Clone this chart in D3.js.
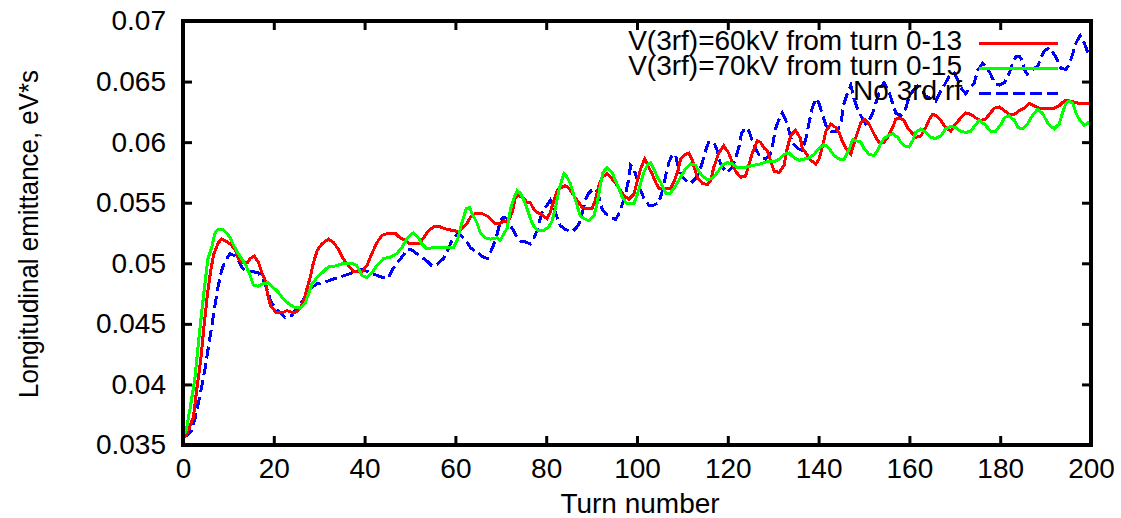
<!DOCTYPE html>
<html>
<head>
<meta charset="utf-8">
<script src="https://cdn.jsdelivr.net/npm/d3@7"></script>
<style>
  body { margin: 0; background: #fff; }
  svg { display: block; font-family: "Liberation Sans", Arial, sans-serif; }
  .tick line { stroke: #000; stroke-width: 3; }
  .tick text { fill: #000; font-size: 28px; }
</style>
</head>
<body>
<main></main>
<script>
// turn number -> longitudinal emittance (eV*s)
const redTurns = [0, 0.7, 2.3, 3, 3.9, 4.6, 5.4, 6.1, 6.8, 7.8, 8.5, 9.6, 10.7, 11.5, 12.2, 12.9, 14.3, 14.8, 15.7, 16.6, 17.4, 18.1, 18.6, 19.3, 20.6, 21.8, 22.9, 24.3, 25.4, 26.5, 27.3, 28, 28.7, 29.6, 30.6, 32, 33.2, 34.3, 35.2, 36.5, 37.6, 39.4, 40.5, 41.6, 42.7, 43.8, 45.3, 46.7, 47.8, 49, 50, 51.9, 53, 54.1, 55.2, 56.7, 58.1, 59.6, 60.8, 61.4, 62.6, 63.3, 64.4, 65.9, 67, 68.1, 68.8, 69.9, 70.8, 71.6, 72.5, 73.2, 73.9, 75, 75.8, 76.5, 77.2, 78, 78.7, 79.4, 80.2, 80.9, 81.7, 82.4, 83.1, 84.2, 85, 85.7, 86.4, 87.2, 87.9, 89, 90.1, 90.8, 91.6, 92.3, 93.4, 94.2, 95.3, 96.4, 97.1, 98.2, 99.3, 100, 100.8, 101.7, 102.6, 103.3, 104.1, 104.8, 105.9, 107.4, 108.1, 109, 109.6, 110.7, 111.4, 112.2, 112.7, 113.3, 114.4, 115.5, 116.2, 116.9, 118, 119.1, 120.2, 121, 121.7, 122.8, 123.9, 124.7, 125.4, 126.5, 127.2, 128, 128.7, 129.4, 130.2, 131.3, 132.4, 133.1, 133.8, 134.9, 136, 136.4, 137.2, 138.3, 139.4, 140.1, 140.9, 141.6, 142.7, 143.8, 144.6, 145.3, 146, 147.1, 147.8, 148.5, 149.3, 150, 151.1, 151.9, 152.6, 153.3, 154.4, 155.2, 156.3, 157, 157.7, 158.8, 159.6, 160.7, 161.4, 162.5, 163.6, 164.4, 165.1, 165.8, 166.9, 168, 169.1, 170.2, 171.3, 172.4, 173.5, 174.6, 175.7, 176.8, 177.6, 178.7, 179.8, 180.9, 182, 183.1, 184.2, 185.3, 186.4, 187.5, 188.6, 191.9, 193, 194.1, 195.2, 196.3, 197.4, 200];
const redValues = [0.0355, 0.0358, 0.0373, 0.0395, 0.0420, 0.0447, 0.0475, 0.0494, 0.0508, 0.0517, 0.0520, 0.0518, 0.0515, 0.0511, 0.0504, 0.0501, 0.0501, 0.0504, 0.0506, 0.0501, 0.0492, 0.0486, 0.0475, 0.0465, 0.0459, 0.0459, 0.0461, 0.0459, 0.0461, 0.0468, 0.0479, 0.0488, 0.0500, 0.0511, 0.0516, 0.0520, 0.0517, 0.0511, 0.0504, 0.0498, 0.0493, 0.0493, 0.0498, 0.0508, 0.0517, 0.0523, 0.0525, 0.0525, 0.0521, 0.0519, 0.0516, 0.0516, 0.0521, 0.0527, 0.0530, 0.0530, 0.0528, 0.0527, 0.0526, 0.0529, 0.0533, 0.0538, 0.0541, 0.0541, 0.0539, 0.0535, 0.0533, 0.0533, 0.0535, 0.0534, 0.0542, 0.0554, 0.0556, 0.0554, 0.0550, 0.0550, 0.0545, 0.0542, 0.0541, 0.0539, 0.0537, 0.0542, 0.0552, 0.0560, 0.0562, 0.0564, 0.0562, 0.0558, 0.0554, 0.0550, 0.0546, 0.0545, 0.0545, 0.0552, 0.0564, 0.0571, 0.0574, 0.0571, 0.0566, 0.0560, 0.0556, 0.0553, 0.0557, 0.0567, 0.0578, 0.0586, 0.0579, 0.0574, 0.0567, 0.0562, 0.0562, 0.0562, 0.0567, 0.0576, 0.0586, 0.0590, 0.0591, 0.0585, 0.0578, 0.0571, 0.0566, 0.0565, 0.0568, 0.0579, 0.0591, 0.0597, 0.0591, 0.0583, 0.0576, 0.0571, 0.0572, 0.0582, 0.0591, 0.0601, 0.0600, 0.0595, 0.0593, 0.0585, 0.0576, 0.0575, 0.0581, 0.0595, 0.0605, 0.0610, 0.0603, 0.0595, 0.0591, 0.0585, 0.0582, 0.0586, 0.0597, 0.0609, 0.0615, 0.0612, 0.0607, 0.0600, 0.0595, 0.0590, 0.0599, 0.0607, 0.0616, 0.0619, 0.0615, 0.0609, 0.0604, 0.0600, 0.0600, 0.0604, 0.0612, 0.0619, 0.0620, 0.0618, 0.0612, 0.0607, 0.0604, 0.0605, 0.0612, 0.0619, 0.0623, 0.0622, 0.0618, 0.0612, 0.0609, 0.0615, 0.0620, 0.0624, 0.0623, 0.0620, 0.0618, 0.0619, 0.0623, 0.0628, 0.0629, 0.0626, 0.0623, 0.0623, 0.0626, 0.0628, 0.0632, 0.0630, 0.0628, 0.0628, 0.0630, 0.0634, 0.0634, 0.0633, 0.0632, 0.0632];

const greenTurns = [0, 0.7, 1.5, 2.6, 3.3, 4.1, 4.85, 5.5, 6.3, 7.05, 7.7, 8.8, 9.6, 10.4, 11, 12, 12.9, 13.9, 14.8, 15.5, 16.5, 17.6, 18.7, 19.9, 21, 22, 23.2, 24.3, 25.8, 26.9, 27.6, 28.4, 29.5, 30.6, 32, 33.9, 35.3, 37.2, 38.3, 39.4, 40.5, 41.6, 42.7, 44.2, 45.6, 47.1, 48.2, 49.3, 50.3, 50.8, 51.9, 52.6, 53.7, 55.2, 56.7, 58.1, 59.6, 60.5, 61.1, 61.8, 62.4, 63.1, 63.7, 64.8, 65.5, 66.6, 67.7, 69.2, 69.9, 70.6, 71.4, 72.1, 72.8, 73.6, 74.3, 75, 75.8, 76.5, 77.2, 78.3, 79.4, 80.6, 81.3, 82, 82.8, 83.3, 83.9, 84.6, 85.3, 86.1, 86.8, 87.5, 88.3, 89.4, 90.5, 91.2, 92, 92.5, 93.4, 94.5, 95.3, 96, 96.7, 97.8, 99.3, 100, 100.8, 101.5, 102.3, 103, 103.7, 104.5, 105.2, 106.3, 107.4, 108.5, 109.6, 110.7, 111.8, 112.9, 113.6, 114.4, 115.5, 116.6, 117.7, 118.8, 119.9, 121, 122.1, 123.6, 124.7, 125.8, 127.2, 128.7, 130.2, 131.3, 132.4, 133.5, 134.6, 135.7, 136.8, 137.9, 139, 140.1, 141.2, 142.3, 143.4, 144.6, 145.6, 146.7, 147.5, 149.3, 150, 151.1, 152.2, 153, 153.7, 154.4, 155.2, 156.3, 157.4, 158.1, 158.8, 159.9, 160.7, 161.4, 162.5, 163.6, 164.7, 165.8, 166.9, 168, 169.1, 170.2, 171.3, 172.4, 173.5, 174.3, 175.4, 176.5, 177.2, 177.9, 179, 180.2, 180.9, 182, 183.1, 183.9, 184.9, 186, 187.1, 188.2, 189.3, 190, 190.8, 191.9, 193, 193.7, 194.5, 195.2, 196, 196.7, 197.4, 198.5, 199.4, 200];
const greenValues = [0.0358, 0.0362, 0.0379, 0.0404, 0.0431, 0.0459, 0.0484, 0.0504, 0.0513, 0.0525, 0.0528, 0.0528, 0.0525, 0.0521, 0.0516, 0.0509, 0.0504, 0.0498, 0.0490, 0.0482, 0.0481, 0.0483, 0.0484, 0.0480, 0.0476, 0.0471, 0.0467, 0.0464, 0.0463, 0.0467, 0.0474, 0.0483, 0.0488, 0.0492, 0.0497, 0.0498, 0.0500, 0.0500, 0.0498, 0.0490, 0.0488, 0.0492, 0.0498, 0.0504, 0.0505, 0.0508, 0.0513, 0.0520, 0.0524, 0.0525, 0.0521, 0.0516, 0.0512, 0.0513, 0.0513, 0.0513, 0.0513, 0.0520, 0.0529, 0.0538, 0.0545, 0.0546, 0.0541, 0.0533, 0.0525, 0.0521, 0.0520, 0.0521, 0.0519, 0.0524, 0.0529, 0.0544, 0.0553, 0.0560, 0.0558, 0.0553, 0.0545, 0.0537, 0.0531, 0.0527, 0.0527, 0.0530, 0.0535, 0.0545, 0.0560, 0.0567, 0.0574, 0.0571, 0.0566, 0.0556, 0.0548, 0.0539, 0.0537, 0.0535, 0.0539, 0.0549, 0.0566, 0.0575, 0.0579, 0.0575, 0.0568, 0.0562, 0.0555, 0.0549, 0.0549, 0.0556, 0.0566, 0.0575, 0.0581, 0.0583, 0.0578, 0.0571, 0.0567, 0.0558, 0.0558, 0.0564, 0.0571, 0.0578, 0.0582, 0.0581, 0.0576, 0.0572, 0.0569, 0.0570, 0.0575, 0.0581, 0.0583, 0.0582, 0.0579, 0.0579, 0.0580, 0.0581, 0.0582, 0.0584, 0.0584, 0.0586, 0.0590, 0.0591, 0.0587, 0.0585, 0.0586, 0.0587, 0.0590, 0.0595, 0.0598, 0.0595, 0.0589, 0.0586, 0.0586, 0.0594, 0.0602, 0.0600, 0.0595, 0.0590, 0.0589, 0.0593, 0.0599, 0.0603, 0.0605, 0.0607, 0.0604, 0.0600, 0.0597, 0.0596, 0.0601, 0.0608, 0.0611, 0.0608, 0.0604, 0.0603, 0.0605, 0.0611, 0.0613, 0.0612, 0.0609, 0.0608, 0.0609, 0.0613, 0.0618, 0.0615, 0.0612, 0.0609, 0.0609, 0.0615, 0.0620, 0.0622, 0.0618, 0.0612, 0.0611, 0.0615, 0.0622, 0.0627, 0.0624, 0.0619, 0.0614, 0.0611, 0.0615, 0.0624, 0.0632, 0.0634, 0.0632, 0.0624, 0.0619, 0.0614, 0.0616, 0.0614];

const blueTurns = [0, 0.8, 1.9, 2.6, 3.4, 4.1, 4.9, 5.6, 6.3, 7.1, 7.8, 8.5, 9.3, 10.4, 11.5, 12.2, 12.9, 14, 15.5, 16.6, 17.4, 18.5, 19.3, 20.3, 21.4, 22.5, 24, 25.1, 26.2, 27.3, 28.4, 29.5, 30.9, 32.4, 33.9, 35.7, 37.2, 39, 40.9, 42.7, 44.2, 45.3, 46, 47.1, 48.2, 49.3, 50.4, 51.5, 52.6, 53.7, 54.8, 55.9, 57.4, 58.1, 58.9, 59.6, 60.7, 61.8, 62.6, 63.3, 64, 65.1, 66.2, 67.1, 67.7, 68.4, 69.2, 69.9, 70.6, 71.5, 72.1, 72.8, 73.6, 74.5, 75.2, 76.5, 77.2, 78, 78.7, 79.4, 80.2, 80.9, 81.7, 82.4, 83.1, 84.2, 85.7, 86.8, 87.5, 88.1, 88.6, 89.4, 90.5, 91.4, 91.8, 92.3, 93.1, 94.2, 95.3, 96, 96.7, 97.5, 98.1, 98.6, 99.3, 99.9, 100.6, 101.5, 102.6, 103.7, 104.8, 105.6, 106.3, 107, 107.8, 108.5, 109.2, 110, 111.1, 111.8, 112.9, 113.6, 114.4, 115.1, 115.8, 116.9, 117.7, 118.4, 119.1, 119.9, 121, 121.7, 122.5, 123, 123.9, 124.7, 125.4, 126.1, 127.2, 128.3, 129.4, 130, 130.5, 131.3, 132, 132.7, 133.5, 134.2, 135.3, 136.4, 137.2, 137.9, 138.6, 139.4, 140.1, 140.9, 141.6, 142.7, 144.1, 144.9, 145.6, 146.3, 147.1, 147.8, 148.5, 149.7, 150.4, 151.1, 151.9, 152.6, 153.7, 154.4, 155.5, 156.3, 157, 158.1, 159.2, 159.9, 160.7, 161.8, 162.9, 163.6, 164.7, 165.8, 166.6, 167.7, 168.4, 169.1, 169.9, 170.6, 171.3, 172.4, 173.2, 174.3, 175, 176.1, 177.2, 177.9, 178.7, 179.8, 180.9, 182, 182.7, 183.5, 184.2, 184.9, 185.3, 186, 187.1, 188.3, 189, 189.7, 190.8, 191.6, 192.3, 193.4, 194.5, 195.2, 196, 196.7, 197.6, 198.5, 199.4, 200];
const blueValues = [0.0356, 0.0358, 0.0362, 0.0371, 0.0385, 0.0398, 0.0414, 0.0431, 0.0447, 0.0467, 0.0482, 0.0494, 0.0502, 0.0508, 0.0506, 0.0502, 0.0497, 0.0493, 0.0493, 0.0492, 0.0488, 0.0479, 0.0469, 0.0463, 0.0459, 0.0455, 0.0457, 0.0463, 0.0468, 0.0475, 0.0480, 0.0483, 0.0484, 0.0486, 0.0488, 0.0490, 0.0492, 0.0495, 0.0493, 0.0490, 0.0488, 0.0488, 0.0494, 0.0500, 0.0505, 0.0511, 0.0511, 0.0508, 0.0505, 0.0502, 0.0498, 0.0499, 0.0504, 0.0509, 0.0516, 0.0521, 0.0525, 0.0521, 0.0517, 0.0513, 0.0511, 0.0508, 0.0505, 0.0504, 0.0509, 0.0515, 0.0524, 0.0535, 0.0538, 0.0537, 0.0531, 0.0527, 0.0521, 0.0518, 0.0518, 0.0516, 0.0520, 0.0527, 0.0537, 0.0545, 0.0548, 0.0552, 0.0546, 0.0538, 0.0531, 0.0528, 0.0526, 0.0530, 0.0535, 0.0544, 0.0552, 0.0558, 0.0562, 0.0558, 0.0552, 0.0545, 0.0541, 0.0538, 0.0536, 0.0541, 0.0548, 0.0558, 0.0568, 0.0581, 0.0578, 0.0571, 0.0562, 0.0554, 0.0548, 0.0548, 0.0550, 0.0560, 0.0572, 0.0583, 0.0590, 0.0589, 0.0578, 0.0571, 0.0567, 0.0566, 0.0570, 0.0575, 0.0583, 0.0593, 0.0600, 0.0600, 0.0593, 0.0582, 0.0578, 0.0575, 0.0579, 0.0586, 0.0597, 0.0607, 0.0612, 0.0609, 0.0601, 0.0595, 0.0587, 0.0586, 0.0590, 0.0600, 0.0611, 0.0619, 0.0624, 0.0619, 0.0609, 0.0600, 0.0595, 0.0593, 0.0603, 0.0616, 0.0628, 0.0636, 0.0632, 0.0622, 0.0614, 0.0609, 0.0609, 0.0616, 0.0632, 0.0640, 0.0647, 0.0636, 0.0628, 0.0619, 0.0615, 0.0618, 0.0624, 0.0632, 0.0645, 0.0649, 0.0642, 0.0632, 0.0624, 0.0622, 0.0628, 0.0637, 0.0642, 0.0646, 0.0642, 0.0638, 0.0636, 0.0634, 0.0640, 0.0647, 0.0652, 0.0656, 0.0657, 0.0652, 0.0645, 0.0640, 0.0644, 0.0649, 0.0659, 0.0665, 0.0661, 0.0656, 0.0649, 0.0647, 0.0649, 0.0657, 0.0665, 0.0671, 0.0671, 0.0667, 0.0660, 0.0656, 0.0660, 0.0663, 0.0670, 0.0675, 0.0678, 0.0674, 0.0670, 0.0661, 0.0660, 0.0664, 0.0673, 0.0682, 0.0688, 0.0682, 0.0673, 0.0670];

const seriesNames = ["V(3rf)=60kV from turn 0-13", "V(3rf)=70kV from turn 0-15", "No 3rd rf"];
const seriesColors = ["#ff0000", "#00ff00", "#0000ff"];
const seriesDashes = [null, null, "12,5"];

const xTicks = [0, 20, 40, 60, 80, 100, 120, 140, 160, 180, 200];
const yTicks = [0.035, 0.04, 0.045, 0.05, 0.055, 0.06, 0.065, 0.07];
const yTickLabels = ["0.035", "0.04", "0.045", "0.05", "0.055", "0.06", "0.065", "0.07"];

const svgSize = { width: 1121, height: 518 };
const plot = { left: 183, right: 1091, top: 21, bottom: 445 };

const createCanvas = () => {
    return d3.select("main")
            .append("svg")
            .attr("width", svgSize.width)
            .attr("height", svgSize.height);
};

const defineScales = () => {
    const xScale = d3.scaleLinear()
                    .domain([0, 200])
                    .range([plot.left, plot.right]);
    const yScale = d3.scaleLinear()
                    .domain([0.035, 0.07])
                    .range([plot.bottom, plot.top]);
    return { xScale, yScale };
};

const createAxes = (svg, scales) => {
    const tick = 9;
    svg.append("g")
        .attr("transform", `translate(0, ${plot.bottom})`)
        .call(d3.axisBottom(scales.xScale).tickValues(xTicks).tickSize(-tick).tickPadding(13))
        .call(g => g.select(".domain").remove());

    svg.append("g")
        .attr("transform", `translate(0, ${plot.top})`)
        .call(d3.axisTop(scales.xScale).tickValues(xTicks).tickSize(-tick).tickFormat(""))
        .call(g => g.select(".domain").remove());

    svg.append("g")
        .attr("transform", `translate(${plot.left}, 0)`)
        .call(d3.axisLeft(scales.yScale).tickValues(yTicks).tickSize(-tick).tickPadding(17)
              .tickFormat((d, i) => yTickLabels[i]))
        .call(g => g.select(".domain").remove());

    svg.append("g")
        .attr("transform", `translate(${plot.right}, 0)`)
        .call(d3.axisRight(scales.yScale).tickValues(yTicks).tickSize(-tick).tickFormat(""))
        .call(g => g.select(".domain").remove());

    svg.selectAll(".tick text")
        .attr("font-family", "Liberation Sans, Arial, sans-serif")
        .attr("font-size", 28);
};

const createLines = (svg, scales) => {
    const series = [
        { turns: redTurns, values: redValues },
        { turns: greenTurns, values: greenValues },
        { turns: blueTurns, values: blueValues }
    ];
    const line = d3.line()
                .x(d => scales.xScale(d[0]))
                .y(d => scales.yScale(d[1]));

    // blue first so the solid lines sit on top like in the original
    [2, 0, 1].forEach(i => {
        const pts = series[i].turns.map((t, j) => [t, series[i].values[j]]);
        svg.append("path")
            .datum(pts)
            .attr("d", line)
            .attr("fill", "none")
            .attr("stroke", seriesColors[i])
            .attr("stroke-width", 3)
            .attr("stroke-dasharray", seriesDashes[i])
            .attr("shape-rendering", "crispEdges");
    });
};

const createFrame = (svg) => {
    svg.append("rect")
        .attr("x", plot.left)
        .attr("y", plot.top)
        .attr("width", plot.right - plot.left)
        .attr("height", plot.bottom - plot.top)
        .attr("fill", "none")
        .attr("stroke", "#000")
        .attr("stroke-width", 4);
};

const createLegend = (svg) => {
    const rowY = [50, 75, 100];
    const legend = svg.append("g");
    seriesNames.forEach((name, i) => {
        legend.append("text")
            .attr("x", 962)
            .attr("y", rowY[i])
            .attr("text-anchor", "end")
            .attr("font-size", 28)
            .attr("fill", "#000")
            .text(name);
        legend.append("line")
            .attr("x1", 979)
            .attr("x2", 1058)
            .attr("y1", rowY[i] - 7)
            .attr("y2", rowY[i] - 7)
            .attr("stroke", seriesColors[i])
            .attr("stroke-width", 3)
            .attr("stroke-dasharray", seriesDashes[i])
            .attr("shape-rendering", "crispEdges");
    });
};

const createLabels = (svg) => {
    svg.append("text")
        .attr("x", 640)
        .attr("y", 513)
        .attr("text-anchor", "middle")
        .attr("font-size", 28)
        .text("Turn number");

    svg.append("text")
        .attr("transform", "translate(38, 234) rotate(-90)")
        .attr("text-anchor", "middle")
        .attr("font-size", 28)
        .attr("textLength", 328)
        .attr("lengthAdjust", "spacingAndGlyphs")
        .text("Longitudinal emittance, eV*s");
};

const driver = () => {
    const svg = createCanvas();
    const scales = defineScales();
    createLines(svg, scales);
    createAxes(svg, scales);
    createFrame(svg);
    createLegend(svg);
    createLabels(svg);
};

driver();
</script>
</body>
</html>
